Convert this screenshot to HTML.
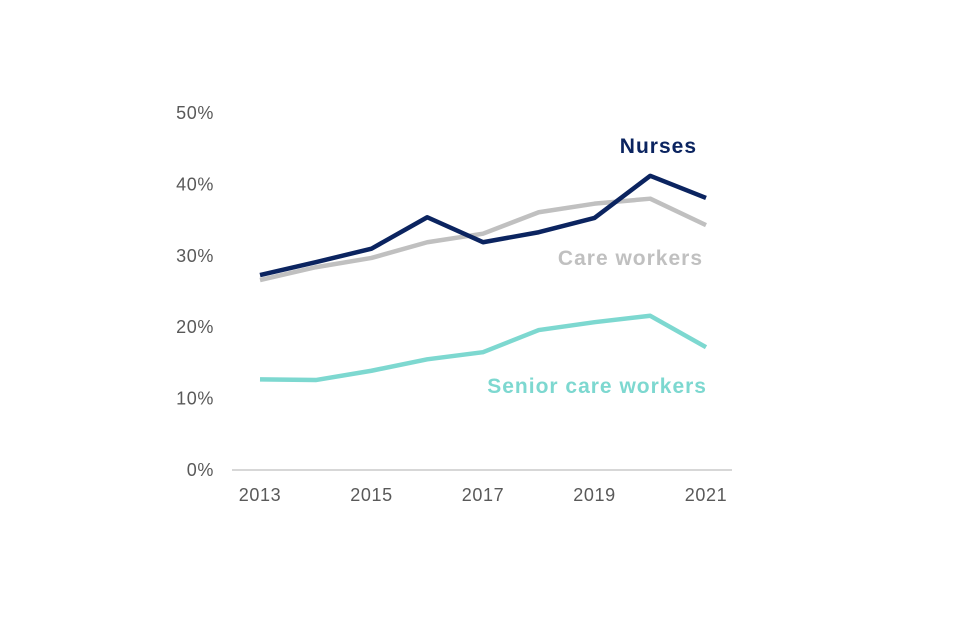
<!DOCTYPE html>
<html><head><meta charset="utf-8"><style>
html,body{margin:0;padding:0;background:#fff;}
svg{display:block;font-family:"Liberation Sans",Arial,sans-serif;}
</style></head><body>
<svg id="chart" width="960" height="640" viewBox="0 0 960 640"></svg>
<script>
const years = [2013,2014,2015,2016,2017,2018,2019,2020,2021];
const nurses = [27.3,29.1,31.0,35.4,31.9,33.3,35.3,41.2,38.1];
const careWorkers = [26.6,28.4,29.7,31.9,33.1,36.1,37.3,38.0,34.3];
const seniorCareWorkers = [12.7,12.6,13.9,15.5,16.5,19.6,20.7,21.6,17.2];
const yTicks = [0,10,20,30,40,50];
const xTickYears = [2013,2015,2017,2019,2021];

const NS="http://www.w3.org/2000/svg";
const svg=document.getElementById('chart');
const x0=260,x1=706,y0=470,y1=113;
function xs(yr){return x0+(yr-years[0])/(years[years.length-1]-years[0])*(x1-x0);}
function ys(v){return y0-(v/50)*(y0-y1);}
function mk(tag,attrs,text){const e=document.createElementNS(NS,tag);for(const k in attrs)e.setAttribute(k,attrs[k]);if(text!==undefined)e.textContent=text;svg.appendChild(e);return e;}

yTicks.forEach(t=>{
  const e=mk('text',{x:214,y:ys(t)+6,'text-anchor':'end','font-size':18,'letter-spacing':0.6,fill:'#595959'},t+'%');
  
  
});
const ax=mk('line',{x1:232,x2:732,y1:y0,y2:y0,stroke:'#bfbfbf','stroke-width':1.3});


xTickYears.forEach(yr=>{
  const e=mk('text',{x:xs(yr),y:501,'text-anchor':'middle','font-size':18,'letter-spacing':0.6,fill:'#595959'},String(yr));
  
  
});
function series(vals,color,name){
  const p=mk('polyline',{points:vals.map((v,i)=>xs(years[i])+','+ys(v)).join(' '),fill:'none',stroke:color,'stroke-width':4.5,'stroke-linejoin':'round'});
  
  
}
series(seniorCareWorkers,'#7dd8d0','senior-care-workers-line');
series(careWorkers,'#c0c0c0','care-workers-line');
series(nurses,'#0b2460','nurses-line');
const l1=mk('text',{x:697,y:153,'text-anchor':'end','font-size':21,'letter-spacing':1,'font-weight':'bold',fill:'#0b2460'},'Nurses');


const l2=mk('text',{x:703,y:265,'text-anchor':'end','font-size':21,'letter-spacing':1,'font-weight':'bold',fill:'#c0c0c0'},'Care workers');


const l3=mk('text',{x:707,y:393,'text-anchor':'end','font-size':21,'letter-spacing':1,'font-weight':'bold',fill:'#7dd8d0'},'Senior care workers');


</script>
</body></html>
